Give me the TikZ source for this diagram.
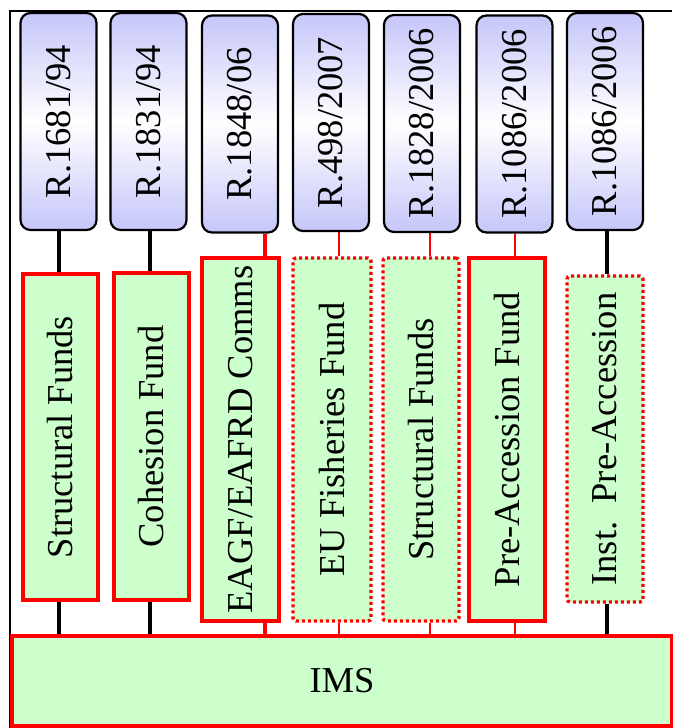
\documentclass[tikz,border=0pt]{standalone}
\usepackage{fontspec}
\setmainfont{Liberation Serif}
\usepackage{graphicx}
\usetikzlibrary{backgrounds}
\definecolor{lav}{RGB}{198,198,250}
\definecolor{mint}{RGB}{204,255,204}
\begin{document}
\begin{tikzpicture}[x=1pt,y=-1pt,
  txt/.style={font=\fontsize{36.5}{40}\selectfont, inner sep=0pt},
  regbox/.style={txt, draw=black, line width=2.2pt, rounded corners=10pt,
    top color=lav, bottom color=lav, middle color=white,
    minimum width=76pt, minimum height=217pt},
  fundbox/.style={txt, draw=red, fill=mint, line width=3.6pt, minimum width=76pt},
  dotbox/.style={fundbox, line width=3.4pt, dash pattern=on 3pt off 3pt, rounded corners=3pt},
  blackcon/.style={draw=black, line width=3.6pt},
  redthick/.style={draw=red, line width=4pt},
  redthin/.style={draw=red, line width=2.6pt},
  frameline/.style={draw=black, line width=2.4pt}
]
\useasboundingbox (0,0) rectangle (672,728);
% frame
\coordinate (fa) at (10,728);
\coordinate (fb) at (10,11);
\coordinate (fc) at (672,11);
\draw[frameline] (fa) -- (fb) -- (fc);

% regulation boxes
\node[regbox] (t1) at (58.5,121.5) {\rotatebox{90}{R.1681/94}};
\node[regbox] (t2) at (148.5,121.5) {\rotatebox{90}{R.1831/94}};
\node[regbox] (t3) at (240,124) {\rotatebox{90}{R.1848/06}};
\node[regbox] (t4) at (331,122.5) {\rotatebox{90}{R.498/2007}};
\node[regbox] (t5) at (422,123.5) {\rotatebox{90}{R.1828/2006}};
\node[regbox] (t6) at (514.5,124) {\rotatebox{90}{R.1086/2006}};
\node[regbox] (t7) at (605,121.5) {\rotatebox{90}{R.1086/2006}};

% fund boxes
\node[fundbox, minimum width=75pt, minimum height=326pt] (g1) at (60.5,437) {\rotatebox{90}{Structural Funds}};
\node[fundbox, minimum width=75pt, minimum height=327pt] (g2) at (151.5,436.5) {\rotatebox{90}{Cohesion Fund}};
\node[fundbox, minimum width=77pt, minimum height=363pt] (g3) at (240.5,439.5) {\rotatebox{90}{EAGF/EAFRD Comms}};
\node[dotbox, minimum width=78pt, minimum height=363pt] (g4) at (332,439.5) {\rotatebox{90}{EU Fisheries Fund}};
\node[dotbox, minimum width=76pt, minimum height=363pt] (g5) at (421,439.5) {\rotatebox{90}{Structural Funds}};
\node[fundbox, minimum width=76pt, minimum height=363pt] (g6) at (507,439.5) {\rotatebox{90}{Pre-Accession Fund}};
\node[dotbox, minimum width=76pt, minimum height=326pt] (g7) at (605,439) {\rotatebox{90}{Inst.~~Pre-Accession}};

% IMS
\node[fundbox, minimum width=660pt, minimum height=90pt] (ims) at (342,681) {IMS};

% connector positions
\coordinate (x1) at (59,0);
\coordinate (x2) at (150,0);
\coordinate (x3) at (265,0);
\coordinate (x4) at (339,0);
\coordinate (x5) at (430,0);
\coordinate (x6) at (515,0);
\coordinate (x7) at (607,0);

\begin{scope}[on background layer]
\draw[blackcon] (t1.south -| x1) -- (g1.north -| x1);
\draw[blackcon] (t2.south -| x2) -- (g2.north -| x2);
\draw[redthick] (t3.south -| x3) -- (g3.north -| x3);
\draw[redthin] (t4.south -| x4) -- (g4.north -| x4);
\draw[redthin] (t5.south -| x5) -- (g5.north -| x5);
\draw[redthin] (t6.south -| x6) -- (g6.north -| x6);
\draw[blackcon] (t7.south -| x7) -- (g7.north -| x7);

\draw[blackcon] (g1.south -| x1) -- (ims.north -| x1);
\draw[blackcon] (g2.south -| x2) -- (ims.north -| x2);
\draw[redthick] (g3.south -| x3) -- (ims.north -| x3);
\draw[redthin] (g4.south -| x4) -- (ims.north -| x4);
\draw[redthin] (g5.south -| x5) -- (ims.north -| x5);
\draw[redthin] (g6.south -| x6) -- (ims.north -| x6);
\draw[blackcon] (g7.south -| x7) -- (ims.north -| x7);
\end{scope}
\end{tikzpicture}
\end{document}
